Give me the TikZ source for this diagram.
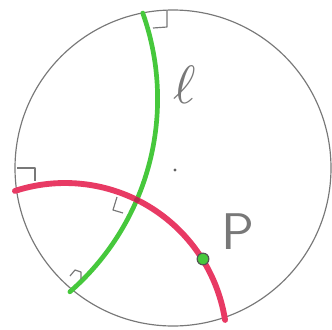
\documentclass[tikz,border=0pt]{standalone}
\usepackage{amsmath}
\usepackage{amssymb}
\usepackage{tikz}
\usetikzlibrary{positioning}

\definecolor{verde}{RGB}{70,200,60}
\definecolor{rosso}{RGB}{232,58,100}
\definecolor{matita}{RGB}{120,120,120}

\begin{document}
\begin{tikzpicture}[x=0.03cm,y=-0.03cm,
    bordo/.style={draw=matita, line width=1pt},
    angolo/.style={draw=matita, line width=1pt, line join=round},
    geod/.style={line width=#1, line cap=round},
    every node/.style={text=matita}]
    \useasboundingbox (0,0) rectangle (332,329);

    % disco
    \coordinate (O) at (173,168);
    \draw[bordo] (O) circle[radius=158];
    \fill[matita!80!black] (175,170) circle[radius=1.6];

    % retta l (verde), arco ortogonale al bordo
    \draw[geod=4pt, verde] plot[domain=-19.6:48.9, samples=60]
        ({-98.4+256*cos(\x)}, {98.9+256*sin(\x)});
    \node[scale=4.6] (ell) at (185,85) {$\ell$};

    % perpendicolare per P (rossa)
    \draw[geod=5pt, rosso] plot[domain=-108:-8.9, samples=60]
        ({65+162*cos(\x)}, {345+162*sin(\x)});
    \fill[rosso!65!black, opacity=0.6] (137,200) circle[radius=3];

    % punto P
    \node[circle, fill=verde, draw=matita!70!black, line width=1pt,
          inner sep=0pt, minimum size=10pt] (p) at (203,259) {};
    \node[scale=4.4, font=\sffamily] (plab) at (238,232) {P};

    % angoli retti
    \draw[angolo] (153,28) -- (167,27) -- (167,10);
    \draw[angolo] (17,168) -- (35,168) -- (35,181);
    \draw[angolo] (117,197) -- (113,210) -- (123,213);
    \draw[angolo] (70,276) -- (75,270) -- (81,272) -- (81,279);
\end{tikzpicture}
\end{document}
